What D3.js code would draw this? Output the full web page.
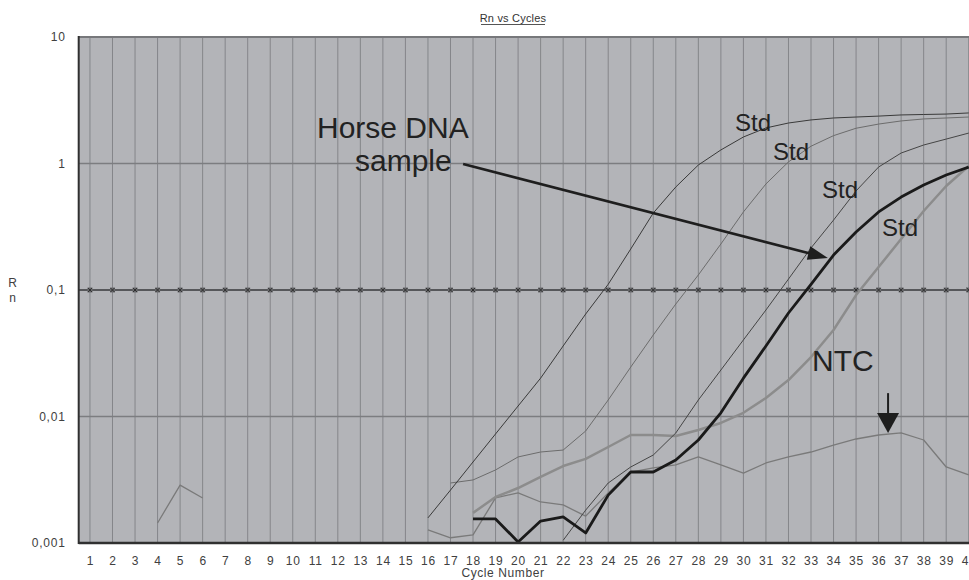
<!DOCTYPE html>
<html>
<head>
<meta charset="utf-8">
<script src="https://cdn.jsdelivr.net/npm/d3@7"></script>
<style>
    body { margin: 0; background: #fff; }
    svg { display: block; font-family: "Liberation Sans", Arial, sans-serif; }
</style>
</head>
<body>
<svg id="chart" width="969" height="580"></svg>
<script>
// Cycle numbers on the x axis
var cycles = d3.range(1, 41);
var yTickValues = [0.001, 0.01, 0.1, 1, 10];
var yTickLabels = ['0,001', '0,01', '0,1', '1', '10'];
var threshold = 0.1;

// Rn per cycle, index 0 = cycle 1, null = not drawn
var std1 = [null, null, null, null, null, null, null, null, null, null,
    null, null, null, null, null, 0.00158, 0.00262, 0.00437, 0.00728, 0.0121,
    0.0201, 0.0361, 0.0646, 0.111, 0.211, 0.406, 0.652, 0.973, 1.28, 1.62,
    1.91, 2.09, 2.21, 2.29, 2.33, 2.37, 2.42, 2.44, 2.46, 2.51];
var std2 = [null, null, null, null, null, null, null, null, null, null,
    null, null, null, null, null, null, 0.00298, 0.00315, 0.00378, 0.00479,
    0.00524, 0.00543, 0.00768, 0.0135, 0.0246, 0.0441, 0.0775, 0.1315, 0.231, 0.414,
    0.689, 1.03, 1.37, 1.66, 1.90, 2.05, 2.17, 2.25, 2.29, 2.33];
var std3 = [null, null, null, null, null, null, null, null, null, null,
    null, null, null, null, null, null, null, null, null, null,
    null, 0.00105, 0.00182, 0.00298, 0.00399, 0.00496, 0.00741, 0.0135, 0.0233, 0.0403,
    0.0695, 0.122, 0.215, 0.357, 0.607, 0.938, 1.21, 1.40, 1.56, 1.74];
var std4 = [null, null, null, null, null, null, null, null, null, null,
    null, null, null, null, null, null, null, 0.00173, 0.00231, 0.00272,
    0.00333, 0.00406, 0.00462, 0.00574, 0.00714, 0.00714, 0.00701, 0.00782, 0.00889, 0.0107,
    0.0140, 0.0194, 0.0295, 0.0483, 0.0912, 0.152, 0.253, 0.421, 0.664, 0.955];
var horse = [null, null, null, null, null, null, null, null, null, null,
    null, null, null, null, null, null, null, 0.00155, 0.00155, 0.00102,
    0.00149, 0.00161, 0.00120, 0.00239, 0.00364, 0.00364, 0.00453, 0.00652, 0.0107, 0.0201,
    0.0361, 0.0658, 0.111, 0.189, 0.287, 0.414, 0.543, 0.676, 0.811, 0.938];
var ntc = [null, null, null, 0.00144, 0.00287, 0.00227, null, null, null, null,
    null, null, null, null, null, 0.00127, 0.00110, 0.00116, 0.00227, 0.00249,
    0.00211, 0.00200, 0.00163, 0.00249, 0.00364, 0.00392, 0.00414, 0.00479, 0.00414, 0.00357,
    0.00429, 0.00479, 0.00524, 0.00595, 0.00664, 0.00714, 0.00741, 0.00652, 0.00399, 0.00345];

var series = [
    { name: 'NTC', values: ntc, color: '#7a7a7a', width: 1.3 },
    { name: 'Std4', values: std4, color: '#8c8c8c', width: 2.5 },
    { name: 'Std2', values: std2, color: '#6c6c6c', width: 1 },
    { name: 'Std3', values: std3, color: '#454545', width: 1 },
    { name: 'Std1', values: std1, color: '#3a3a3a', width: 1 },
    { name: 'Horse', values: horse, color: '#1a1a1a', width: 2.8 }
];

var margin = { left: 78.7, top: 37, bottom: 543 };
var svg = d3.select('#chart');

var x = d3.scaleLinear().domain([0.5, 40.5]).range([margin.left, 980]);
var y = d3.scaleLog().domain([0.001, 10]).range([margin.bottom, margin.top]);

// plot background
svg.append('rect')
    .attr('x', x(0.5)).attr('y', y(10))
    .attr('width', x(40.5) - x(0.5)).attr('height', y(0.001) - y(10))
    .attr('fill', '#b3b4b8');

// vertical grid, one per cycle
svg.append('g').selectAll('line')
    .data(cycles)
    .enter().append('line')
        .attr('x1', function (d) { return x(d); })
        .attr('x2', function (d) { return x(d); })
        .attr('y1', y(10)).attr('y2', y(0.001))
        .attr('stroke', '#85868a').attr('stroke-width', 1);

// horizontal decade lines
svg.append('g').selectAll('line')
    .data([0.01, 1])
    .enter().append('line')
        .attr('x1', x(0.5)).attr('x2', x(40.5))
        .attr('y1', function (d) { return y(d); })
        .attr('y2', function (d) { return y(d); })
        .attr('stroke', '#7c7d80').attr('stroke-width', 1.5);

svg.append('line')
    .attr('x1', x(0.5)).attr('x2', x(40.5))
    .attr('y1', y(10)).attr('y2', y(10))
    .attr('stroke', '#77787b').attr('stroke-width', 2);

// threshold line with x markers
svg.append('line')
    .attr('x1', x(0.5)).attr('x2', x(40.5))
    .attr('y1', y(threshold)).attr('y2', y(threshold))
    .attr('stroke', '#56575a').attr('stroke-width', 2.2);

var marks = svg.append('g').selectAll('g')
    .data(cycles)
    .enter().append('g')
        .attr('transform', function (d) { return 'translate(' + x(d) + ',' + y(threshold) + ')'; });
marks.append('rect')
    .attr('x', -2.5).attr('y', -2.5).attr('width', 5).attr('height', 5)
    .attr('fill', '#6a6b6e');
marks.append('path')
    .attr('d', 'M-2,-2L2,2M-2,2L2,-2')
    .attr('stroke', '#2e2e2e').attr('stroke-width', 1);

// curves
var line = d3.line()
    .defined(function (d) { return d != null; })
    .x(function (d, i) { return x(cycles[i]); })
    .y(function (d) { return y(d); });

svg.append('g').selectAll('path')
    .data(series)
    .enter().append('path')
        .attr('d', function (s) { return line(s.values); })
        .attr('fill', 'none')
        .attr('stroke', function (s) { return s.color; })
        .attr('stroke-width', function (s) { return s.width; })
        .attr('stroke-linejoin', 'round');

// axes lines
svg.append('line')
    .attr('x1', x(0.5)).attr('x2', x(0.5))
    .attr('y1', y(10) - 1).attr('y2', y(0.001) + 1)
    .attr('stroke', '#303030').attr('stroke-width', 2);
svg.append('line')
    .attr('x1', x(0.5)).attr('x2', x(40.5))
    .attr('y1', y(0.001)).attr('y2', y(0.001))
    .attr('stroke', '#303030').attr('stroke-width', 2.5);

// tick labels
var yAxis = d3.axisLeft(y)
    .tickValues(yTickValues)
    .tickFormat(function (d, i) { return yTickLabels[i]; })
    .tickSize(0).tickPadding(13);
var gy = svg.append('g').attr('transform', 'translate(' + x(0.5) + ',0)').call(yAxis);
gy.select('.domain').remove();

var xAxis = d3.axisBottom(x)
    .tickValues(cycles)
    .tickFormat(d3.format('d'))
    .tickSize(0).tickPadding(13);
var gx = svg.append('g').attr('transform', 'translate(0,' + y(0.001) + ')').call(xAxis);
gx.select('.domain').remove();

svg.selectAll('.tick text')
    .attr('font-family', '"Liberation Sans", Arial, sans-serif')
    .attr('font-size', 12)
    .attr('letter-spacing', 0.8)
    .attr('fill', '#404040');

// titles
svg.append('text')
    .attr('x', 513).attr('y', 22)
    .attr('text-anchor', 'middle')
    .attr('font-size', 11).attr('letter-spacing', 0.2)
    .attr('fill', '#333')
    .text('Rn vs Cycles');
svg.append('line')
    .attr('x1', 481).attr('x2', 545).attr('y1', 24.5).attr('y2', 24.5)
    .attr('stroke', '#555').attr('stroke-width', 1);

svg.append('text')
    .attr('x', 503).attr('y', 577)
    .attr('text-anchor', 'middle')
    .attr('font-size', 12).attr('letter-spacing', 0.6)
    .attr('fill', '#404040')
    .text('Cycle Number');

svg.append('text')
    .attr('x', 12.5).attr('y', 287)
    .attr('text-anchor', 'middle')
    .attr('font-size', 12).attr('fill', '#404040')
    .text('R');
svg.append('text')
    .attr('x', 12.5).attr('y', 302)
    .attr('text-anchor', 'middle')
    .attr('font-size', 12).attr('fill', '#404040')
    .text('n');

// annotations
var labels = [
    { text: 'Std', x: 735, y: 131, size: 24 },
    { text: 'Std', x: 773, y: 160, size: 24 },
    { text: 'Std', x: 822, y: 198, size: 24 },
    { text: 'Std', x: 882, y: 236, size: 24 },
    { text: 'Horse DNA', x: 317, y: 138, size: 30 },
    { text: 'sample', x: 355, y: 171, size: 30 },
    { text: 'NTC', x: 812, y: 371, size: 30 }
];
svg.append('g').selectAll('text')
    .data(labels)
    .enter().append('text')
        .attr('x', function (d) { return d.x; })
        .attr('y', function (d) { return d.y; })
        .attr('font-size', function (d) { return d.size; })
        .attr('fill', '#222')
        .text(function (d) { return d.text; });

var arrowHead = function (x0, y0, x1, y1, len, half) {
    var a = Math.atan2(y1 - y0, x1 - x0);
    var bx = x1 - len * Math.cos(a), by = y1 - len * Math.sin(a);
    var nx = -Math.sin(a) * half, ny = Math.cos(a) * half;
    return 'M' + x1 + ',' + y1 + 'L' + (bx + nx) + ',' + (by + ny) + 'L' + (bx - nx) + ',' + (by - ny) + 'Z';
};

// Horse DNA arrow
var a0 = { x: x(17.56), y: y(0.99) }, a1 = { x: x(33.75), y: y(0.179) };
svg.append('line')
    .attr('x1', a0.x).attr('y1', a0.y).attr('x2', a1.x - 12).attr('y2', a1.y - 3)
    .attr('stroke', '#1e1e1e').attr('stroke-width', 2.6);
svg.append('path')
    .attr('d', arrowHead(a0.x, a0.y, a1.x, a1.y, 20, 7))
    .attr('fill', '#1e1e1e');

// NTC arrow
var n0 = { x: x(36.42), y: y(0.0153) }, n1 = { x: x(36.42), y: y(0.0074) };
svg.append('line')
    .attr('x1', n0.x).attr('y1', n0.y).attr('x2', n1.x).attr('y2', n1.y - 12)
    .attr('stroke', '#1e1e1e').attr('stroke-width', 2);
svg.append('path')
    .attr('d', arrowHead(n0.x, n0.y, n1.x, n1.y, 20, 11))
    .attr('fill', '#1e1e1e');
</script>
</body>
</html>
